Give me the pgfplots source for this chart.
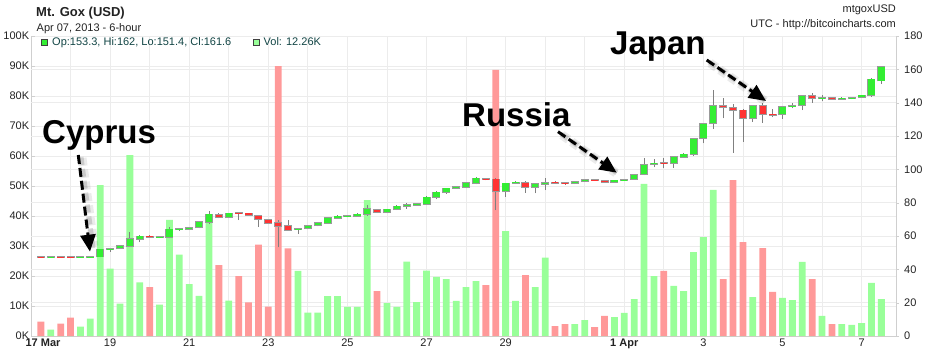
\documentclass[border=0pt]{standalone}
\usepackage{fontspec}
\setmainfont{Liberation Sans}
\usepackage{pgfplots}
\pgfplotsset{compat=1.18}
\usepackage{pgfplotstable}
\usetikzlibrary{arrows.meta}
\definecolor{vgreen}{HTML}{99FF99}
\definecolor{vred}{HTML}{FF9999}
\definecolor{cgreen}{HTML}{33EE33}
\definecolor{cred}{HTML}{FF3333}
\definecolor{cgray}{HTML}{9A9A9A}
\definecolor{wick}{HTML}{808080}
\definecolor{gridc}{HTML}{ECECEC}
\definecolor{axisc}{HTML}{CFCFCF}
\definecolor{txt}{HTML}{222222}
\definecolor{legtxt}{HTML}{114444}

\pgfplotstableread{
k O H L C V
1 47.7 47.8 47.5 47.6 4.8
2 47.6 47.8 47.5 47.7 2.1
3 47.7 47.8 47.5 47.6 4.1
4 47.6 47.7 47.4 47.5 6.1
5 47.5 47.7 47.4 47.6 3.1
6 47.6 47.8 47.5 47.7 5.8
7 47.7 52.4 47.2 52.0 50.3
8 52.0 53.0 50.6 52.4 22.5
9 52.6 54.6 52.2 54.2 10.8
10 54.2 62.6 53.6 58.2 60.3
11 58.2 60.6 56.2 59.8 17.9
12 59.8 60.4 59.0 59.5 16.3
13 59.4 60.2 58.8 59.6 10.5
14 59.6 65.6 58.6 64.0 38.7
15 64.0 65.0 63.2 64.2 27.1
16 64.2 65.6 63.6 64.8 17.3
17 65.2 69.0 64.6 68.6 13.4
18 68.6 75.2 67.0 73.0 39.0
19 72.6 74.0 70.6 71.2 23.6
20 71.2 74.0 70.8 73.6 11.8
21 73.8 74.0 69.6 73.6 20.0
22 73.6 74.0 72.4 72.8 11.2
23 72.2 72.8 65.4 70.2 30.5
24 69.8 70.4 67.2 67.8 9.8
25 67.8 69.8 53.2 66.2 90.0
26 66.0 69.8 63.4 63.8 29.2
27 64.2 64.8 61.2 64.4 21.7
28 64.6 66.6 64.0 66.2 7.8
29 66.4 68.4 65.8 68.0 7.8
30 67.8 71.4 67.4 71.0 13.3
31 71.0 72.4 70.6 71.8 13.3
32 71.8 72.8 71.2 72.2 9.7
33 72.2 73.6 71.8 73.0 9.7
34 73.0 78.4 72.0 76.2 45.3
35 75.8 76.4 73.8 74.4 15.0
36 74.2 76.4 73.8 76.0 11.0
37 76.0 78.4 75.6 77.8 9.7
38 77.8 79.6 76.4 78.6 24.8
39 78.8 80.0 78.4 79.2 11.3
40 79.4 83.8 78.8 83.2 21.8
41 83.4 87.0 82.2 86.2 19.7
42 86.2 89.0 85.4 88.6 19.0
43 88.8 90.0 88.4 89.4 11.7
44 89.4 92.6 88.6 92.0 16.3
45 91.6 95.2 91.0 94.6 18.3
46 94.4 95.0 93.4 94.2 17.0
47 94.0 94.8 75.6 86.8 88.7
48 86.8 92.0 83.6 91.6 35.0
49 91.8 93.2 91.2 92.2 11.7
50 92.0 93.0 86.0 89.6 20.3
51 89.6 91.6 85.6 91.2 16.3
52 91.4 94.8 87.6 92.0 26.1
53 92.2 92.8 91.4 92.0 3.3
54 92.0 92.4 90.8 91.6 4.0
55 91.6 93.0 91.2 92.6 4.0
56 92.8 94.2 92.4 93.8 5.3
57 93.8 94.2 93.2 93.6 3.0
58 93.2 93.6 92.0 92.4 6.7
59 92.4 93.8 92.0 93.4 6.3
60 93.4 94.0 93.0 93.6 7.7
61 94.2 97.2 93.8 96.8 12.3
62 97.2 106.6 96.6 102.8 50.7
63 103.0 106.0 101.2 103.6 20.0
64 103.8 106.6 100.6 103.6 21.7
65 103.8 108.0 101.0 107.4 16.7
66 107.6 109.6 107.0 109.0 15.0
67 109.2 118.8 108.0 118.4 28.0
68 118.6 128.0 115.6 127.4 33.0
69 127.6 147.6 124.2 138.2 48.7
70 138.2 142.6 130.6 137.4 19.0
71 137.0 139.2 110.0 135.6 52.0
72 135.4 136.2 116.6 130.8 31.3
73 130.6 138.6 128.6 138.2 13.0
74 138.0 140.0 128.0 133.4 29.3
75 133.0 136.4 131.2 132.6 14.7
76 133.0 137.8 130.4 137.6 12.7
77 137.8 139.6 136.6 138.2 12.0
78 138.6 144.6 135.6 144.2 24.7
79 144.2 145.6 140.0 142.8 19.0
80 142.8 144.4 140.8 143.0 6.7
81 143.0 143.6 141.8 142.2 4.0
82 142.4 143.2 141.8 142.6 4.0
83 142.6 143.4 142.2 143.0 3.7
84 143.4 144.8 143.0 144.4 4.3
85 144.6 154.6 143.6 154.0 17.7
86 153.3 162.0 151.4 161.6 12.3
}\candles

\begin{document}
\begin{tikzpicture}
\useasboundingbox (0pt,0pt) rectangle (928pt,354pt);
% ---------- volume axis (left) ----------
\begin{axis}[
  at={(31pt,18pt)}, anchor=south west,
  scale only axis, width=865pt, height=300pt,
  xmin=0, xmax=21.87, ymin=0, ymax=100,
  axis x line*=bottom, axis y line*=left,
  axis line style={draw=axisc, line width=0.8pt, -},
  xtick={0,2,4,6,8,10,12,15,17,19,21},
  xticklabels={\hspace*{24pt}\textbf{17 Mar},19,21,23,25,27,29,\textbf{1 Apr},3,5,7},
  minor xtick={1,3,5,7,9,11,13,14,16,18,20},
  xmajorgrids, xminorgrids, ymajorgrids,
  grid style={draw=gridc, line width=0.8pt},
  minor grid style={draw=gridc, line width=0.8pt},
  xtick style={draw=none},
  ytick={0,10,...,100},
  yticklabels={0K,10K,20K,30K,40K,50K,60K,70K,80K,90K,100K},
  extra y ticks={11.111,22.222,33.333,44.444,55.556,66.667,77.778,88.889},
  extra y tick labels={,,,,,,,},
  extra y tick style={grid=major, major tick length=0pt},
  ytick style={draw=axisc}, tick align=inside, major tick length=4pt,
  tick label style={font=\fontsize{11}{13}\selectfont, text=txt},
  xticklabel style={inner sep=0pt, yshift=-3pt},
  yticklabel style={inner sep=0pt, xshift=-1.7pt},
]
\addplot[ybar, bar width=6.8pt, bar shift=0pt, draw=none, fill=vgreen]
  table[x expr=\thisrow{k}*0.25, y expr={(\thisrow{C}>\thisrow{O})*\thisrow{V}}]{\candles};
\addplot[ybar, bar width=6.8pt, bar shift=0pt, draw=none, fill=vred]
  table[x expr=\thisrow{k}*0.25, y expr={(\thisrow{C}<\thisrow{O})*\thisrow{V}}]{\candles};
\end{axis}
% ---------- price axis (right) ----------
\begin{axis}[
  at={(31pt,18pt)}, anchor=south west,
  scale only axis, width=865pt, height=300pt,
  xmin=0, xmax=21.87, ymin=0, ymax=180,
  axis x line=none, axis y line*=right,
  axis line style={draw=axisc, line width=0.8pt, -},
  ytick={0,20,...,180},
  tick align=outside, major tick length=3pt, ytick style={draw=axisc},
  tick label style={font=\fontsize{11}{13}\selectfont, text=txt},
  yticklabel style={inner sep=0pt, xshift=5pt},
  /pgf/number format/assume math mode=true,
]
\addplot[draw=none, error bars/.cd, y dir=plus, y explicit, error mark=none,
  error bar style={draw=wick, line width=0.8pt, solid}]
  table[x expr=\thisrow{k}*0.25, y=L, y error plus expr={\thisrow{H}-\thisrow{L}}]{\candles};
\addplot[draw=none, error bars/.cd, y dir=plus, y explicit, error mark=none,
  error bar style={draw=cgray, line width=8pt, solid}]
  table[x expr=\thisrow{k}*0.25, y expr={min(\thisrow{O},\thisrow{C})-0.5}, y error plus expr={abs(\thisrow{C}-\thisrow{O})+1}]{\candles};
\addplot[draw=none, error bars/.cd, y dir=plus, y explicit, error mark=none,
  error bar style={draw=cgreen, line width=6.4pt, solid}]
  table[x expr=\thisrow{k}*0.25, y=O, y error plus expr={max(\thisrow{C}-\thisrow{O},0)}]{\candles};
\addplot[draw=none, error bars/.cd, y dir=plus, y explicit, error mark=none,
  error bar style={draw=cred, line width=6.4pt, solid}]
  table[x expr=\thisrow{k}*0.25, y=C, y error plus expr={max(\thisrow{O}-\thisrow{C},0)}]{\candles};
\end{axis}
% ---------- header ----------
\node[anchor=base west, inner sep=0pt, text=txt, font=\bfseries\fontsize{13}{15}\selectfont] at (36pt,337pt) {Mt. Gox (USD)};
\node[anchor=base west, inner sep=0pt, text=txt, font=\fontsize{11}{13}\selectfont] at (36.5pt,322.7pt) {Apr 07, 2013 - 6-hour};
\node[anchor=base east, inner sep=0pt, text=txt, font=\fontsize{11}{13}\selectfont] at (896pt,341.3pt) {mtgoxUSD};
\node[anchor=base east, inner sep=0pt, text=txt, font=\fontsize{11}{13}\selectfont] at (896pt,326.5pt) {UTC - http://bitcoincharts.com};
% ---------- info line ----------
\filldraw[fill=cgreen, draw=black!75, line width=0.6pt] (41pt,308.5pt) rectangle (47pt,314.5pt);
\node[anchor=base west, inner sep=0pt, text=legtxt, font=\fontsize{11}{13}\selectfont] at (52pt,308pt) {Op:153.3, Hi:162, Lo:151.4, Cl:161.6};
\filldraw[fill=vgreen, draw=black!75, line width=0.6pt] (253pt,308.5pt) rectangle (259pt,314.5pt);
\node[anchor=base west, inner sep=0pt, text=legtxt, font=\fontsize{11}{13}\selectfont] at (263.5pt,308pt) {Vol: 12.26K};
% ---------- annotations ----------
\tikzset{shadA/.style={line width=9pt, black, opacity=0.08, dash pattern=on 8pt off 4pt},
         shadB/.style={line width=5pt, black, opacity=0.14, dash pattern=on 8pt off 4pt},
         arr/.style={line width=3pt, black, dash pattern=on 9pt off 4pt, -{Triangle[length=17pt,width=15pt]}}}
\draw[shadA] (82pt,196pt) -- (94pt,108pt);
\draw[shadB] (81pt,197pt) -- (93pt,106pt);
\draw[arr] (78.3pt,199pt) -- (90pt,102.3pt);
\draw[shadA] (562pt,219pt) -- (616pt,181pt);
\draw[shadB] (561pt,220pt) -- (617pt,181pt);
\draw[arr] (558pt,222.3pt) -- (616.7pt,181.3pt);
\draw[shadA] (710pt,291pt) -- (765pt,253pt);
\draw[shadB] (709pt,292pt) -- (766pt,253pt);
\draw[arr] (706.7pt,294pt) -- (766pt,253pt);
\node[anchor=base west, inner sep=0pt, font=\bfseries\fontsize{33}{36}\selectfont] at (42pt,211pt) {Cyprus};
\node[anchor=base west, inner sep=0pt, font=\bfseries\fontsize{33}{36}\selectfont] at (462pt,228pt) {Russia};
\node[anchor=base west, inner sep=0pt, font=\bfseries\fontsize{33}{36}\selectfont] at (610pt,299pt) {Japan};
\end{tikzpicture}
\end{document}
